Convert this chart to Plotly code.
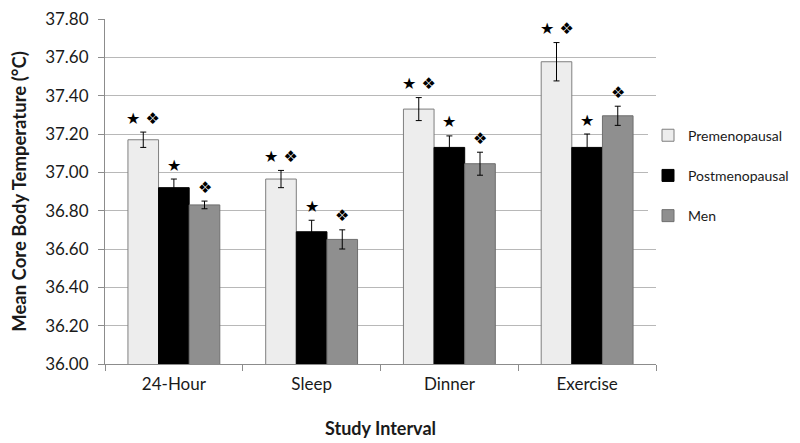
import plotly.graph_objects as go

categories = ["24-Hour", "Sleep", "Dinner", "Exercise"]
series_names = ["Premenopausal", "Postmenopausal", "Men"]
pre_vals = [37.17, 36.965, 37.33, 37.577]
post_vals = [36.92, 36.69, 37.13, 37.13]
men_vals = [36.83, 36.65, 37.045, 37.295]
pre_err = [0.04, 0.045, 0.06, 0.10]
post_err = [0.045, 0.06, 0.06, 0.07]
men_err = [0.02, 0.05, 0.06, 0.05]
pre_marks = ["★ ❖", "★ ❖", "★ ❖", "★ ❖"]
post_marks = ["★", "★", "★", "★"]
men_marks = ["❖", "❖", "❖", "❖"]
y_ticks = [36.0, 36.2, 36.4, 36.6, 36.8, 37.0, 37.2, 37.4, 37.6, 37.8]

colors = ["#EDEDED", "#000000", "#8F8F8F"]
line_colors = ["#7F7F7F", "#000000", "#6F6F6F"]
FONT = "Lato"
TXT = "#1A1A1A"

M_L, M_R, M_T, M_B = 97, 152, 11, 87

fig = go.Figure()
all_vals = [pre_vals, post_vals, men_vals]
all_err = [pre_err, post_err, men_err]
all_marks = [pre_marks, post_marks, men_marks]
for i, name in enumerate(series_names):
    fig.add_trace(go.Bar(
        x=categories, y=all_vals[i], name=name, legendgroup=name,
        marker=dict(color=colors[i], line=dict(color=line_colors[i], width=1)),
        error_y=dict(type="data", array=all_err[i], color="#000000", thickness=1, width=3),
    ))

# annotations above error bars
plot_w = 800 - M_L - M_R
cat_w = plot_w / len(categories)
bar_w = cat_w * (1 - 0.333) / 3
for i in range(3):
    for j, c in enumerate(categories):
        fig.add_annotation(
            x=c, y=all_vals[i][j] + all_err[i][j], xref="x", yref="y",
            text=all_marks[i][j], showarrow=False,
            xshift=(i - 1) * bar_w, yshift=14, yanchor="middle",
            font=dict(family="DejaVu Sans", size=16, color="#000000"),
        )

fig.update_layout(
    width=800, height=443,
    margin=dict(l=M_L, r=M_R, t=M_T, b=M_B, autoexpand=False),
    paper_bgcolor="white", plot_bgcolor="white",
    barmode="group", bargap=0.333, bargroupgap=0,
    font=dict(family=FONT, size=17, color=TXT),
    legend=dict(xref="container", yref="container", x=0.9825, xanchor="right",
                y=0.748, yanchor="top",
                font=dict(family=FONT, size=14, color=TXT),
                tracegroupgap=19, traceorder="grouped", itemwidth=30),
    showlegend=True,
)
fig.update_xaxes(
    showline=True, linecolor="#8C8C8C", linewidth=1, automargin=False,
    ticks="outside", tickson="boundaries", ticklen=6, tickcolor="#8C8C8C",
    ticklabelstandoff=5,
    title=dict(text="<b>Study Interval</b>", font=dict(family=FONT, size=18, color=TXT), standoff=28),
    tickfont=dict(family=FONT, size=17, color=TXT),
)
fig.update_yaxes(
    range=[36.0, 37.8], tickvals=y_ticks, tickformat=".2f",
    ticklabeloverflow="allow", ticklabelstandoff=6,
    showgrid=True, gridcolor="#B8B8B8", gridwidth=1, automargin=False,
    showline=True, linecolor="#8C8C8C", linewidth=1,
    ticks="outside", ticklen=6, tickcolor="#8C8C8C",
    title=dict(text="<b>Mean Core Body Temperature (°C)</b>", font=dict(family=FONT, size=18.5, color=TXT), standoff=20),
    tickfont=dict(family=FONT, size=17, color=TXT),
    zeroline=False,
)

fig.write_html("out.html")
